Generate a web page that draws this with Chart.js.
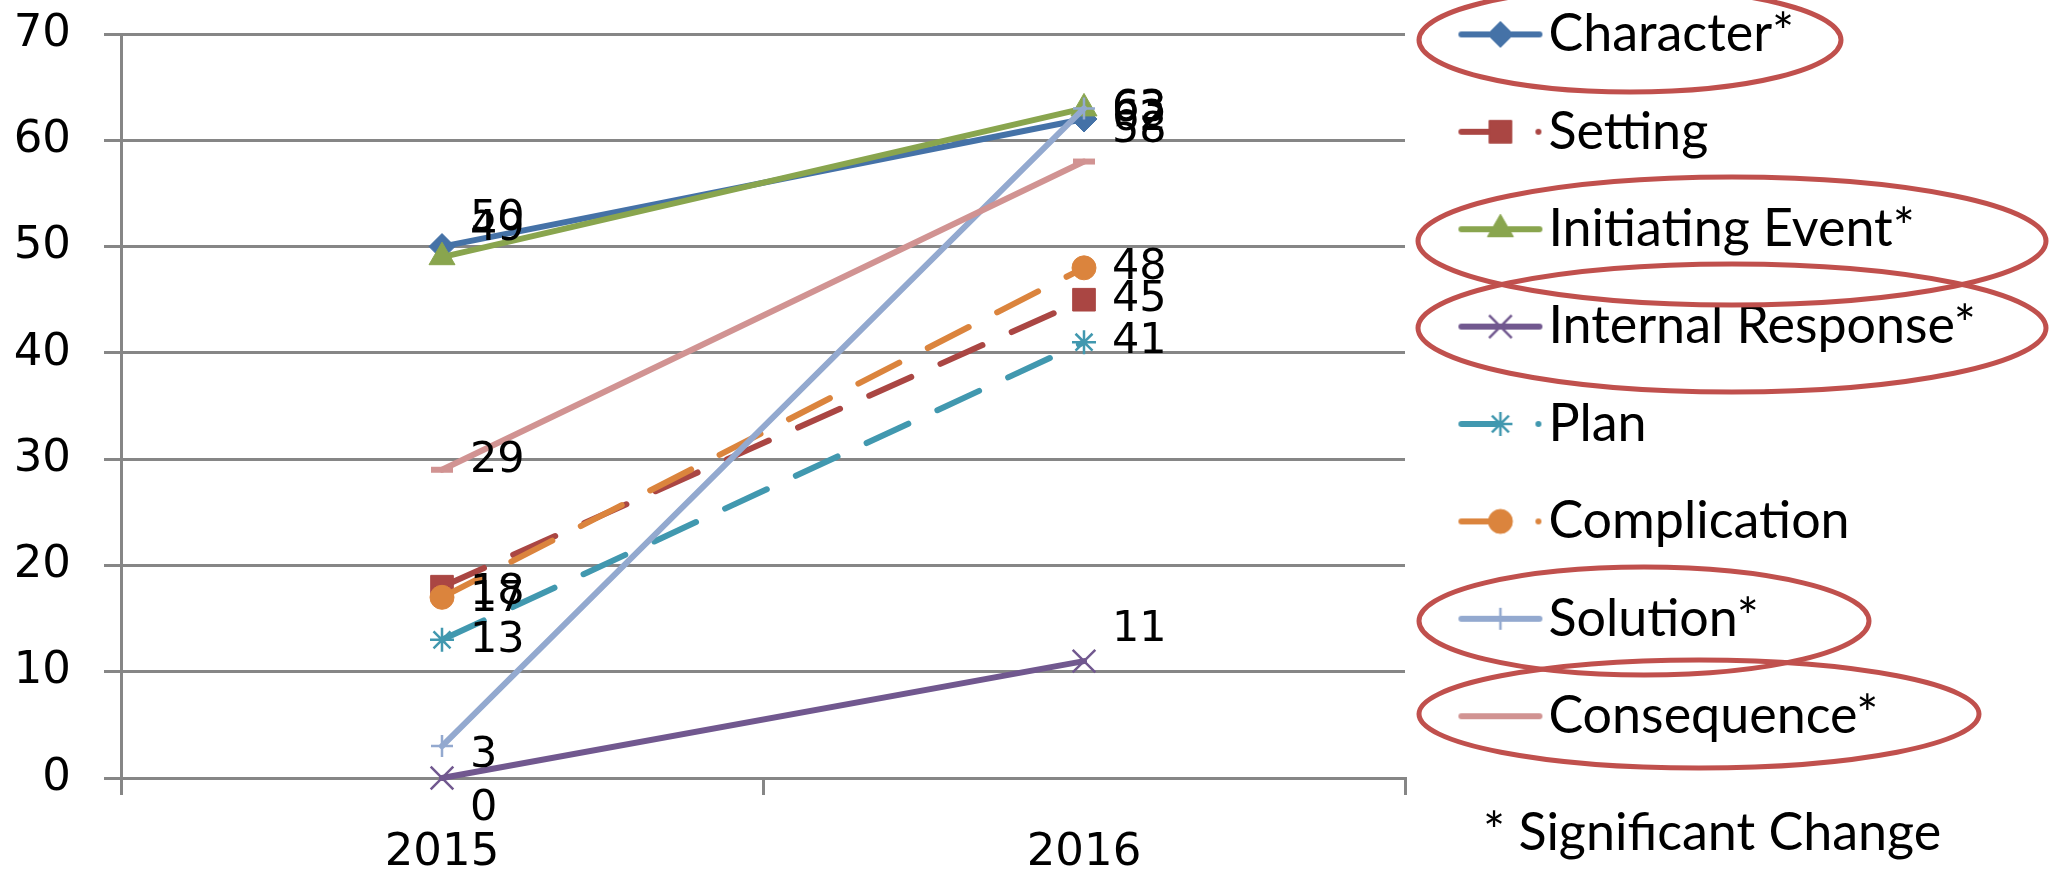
<!DOCTYPE html>
<html>
<head>
<meta charset="utf-8">
<script src="https://cdn.jsdelivr.net/npm/chart.js@4.4.1/dist/chart.umd.min.js"></script>
<style>
  html, body { margin: 0; padding: 0; background: #fff; }
  #wrap { width: 2055px; height: 870px; }
</style>
</head>
<body>
<div id="wrap"><canvas id="chart" width="2055" height="870"></canvas></div>
<script>
// data
const years = ["2015", "2016"];
const seriesNames = ["Character*", "Setting", "Initiating Event*", "Internal Response*",
                     "Plan", "Complication", "Solution*", "Consequence*"];
const character = [50, 62];
const setting = [18, 45];
const initiatingEvent = [49, 63];
const internalResponse = [0, 11];
const plan = [13, 41];
const complication = [17, 48];
const solution = [3, 63];
const consequence = [29, 58];
const yTicks = [0, 10, 20, 30, 40, 50, 60, 70];
const footnote = "* Significant Change";

const seriesValues = [character, setting, initiatingEvent, internalResponse,
                      plan, complication, solution, consequence];

// looks
const LINE_W = 6;
const styles = [
  { color: "#4572A7", marker: "rectRot",  r: 13, bw: 1,   dash: false },
  { color: "#AA4643", marker: "rect",     r: 16, bw: 1,   dash: true },
  { color: "#89A54E", marker: "triangle", r: 15, bw: 1,   dash: false },
  { color: "#71588F", marker: "crossRot", r: 16, bw: 2.5, dash: false },
  { color: "#4198AF", marker: "star",     r: 12, bw: 2.5, dash: true },
  { color: "#DB843D", marker: "circle",   r: 12, bw: 1,   dash: true },
  { color: "#93A9CF", marker: "cross",    r: 11, bw: 2.5, dash: false },
  { color: "#D19392", marker: "line",     r: 11, bw: LINE_W, dash: false }
];
// vertical nudges of the value labels (Excel moved some of them)
const labelNudge = [[-28, 0], [6, 0], [-28, 1], [31, -31], [1, 0], [3, 0], [10, 0], [-9, -31]];

const axisFont = { family: "'DejaVu Sans', Verdana, sans-serif", size: 45 };
const legendFont = { family: "Lato, 'Open Sans', sans-serif", size: 52 };
const gridGrey = "#868686";

const CANVAS_W = 2055;
const PLOT_LEFT = 121;
const PLOT_TOP = 34;
const PLOT_RIGHT = 1405;
const X_AXIS_H = 92;
const LEGEND_BOX = 400;   // width the layout reserves for the legend
const LEGEND_PAD = 45.4;
const SYMBOL_W = 72;
const LEGEND_TOP = -37;

// red rings drawn around the significant series in the legend
const rings = [
  { cx: 1630, cy: 40, rx: 211, ry: 52 },
  { cx: 1732, cy: 241, rx: 314, ry: 64 },
  { cx: 1732, cy: 328, rx: 314, ry: 64 },
  { cx: 1644, cy: 621, rx: 225, ry: 54 },
  { cx: 1699, cy: 714, rx: 280, ry: 54 }
];

// legend symbol: short line with the marker, like Excel
function legendSymbol(st) {
  const c = document.createElement("canvas");
  c.width = 120;
  c.height = 36;
  const g = c.getContext("2d");
  const mid = 18;
  g.strokeStyle = st.color;
  g.fillStyle = st.color;
  g.lineWidth = LINE_W;
  g.lineCap = "round";
  g.beginPath();
  g.moveTo(35, mid);
  g.lineTo(st.dash ? 74 : 113, mid);
  g.stroke();
  if (st.dash) {
    g.beginPath();
    g.arc(112, mid, 3, 0, Math.PI * 2);
    g.fill();
  }
  g.lineWidth = st.bw;
  g.lineCap = "butt";
  Chart.helpers.drawPoint(g, { pointStyle: st.marker, radius: st.r, borderWidth: st.bw, rotation: 0 }, 74, mid);
  return c;
}
const symbols = styles.map(legendSymbol);

const pointLabels = {
  id: "pointLabels",
  afterDatasetsDraw(chart) {
    const ctx = chart.ctx;
    ctx.save();
    ctx.font = "43px 'DejaVu Sans', Verdana, sans-serif";
    ctx.fillStyle = "#000";
    ctx.textAlign = "left";
    ctx.textBaseline = "middle";
    chart.data.datasets.forEach((ds, i) => {
      chart.getDatasetMeta(i).data.forEach((pt, j) => {
        ctx.fillText(String(ds.data[j]), pt.x + 28, pt.y + labelNudge[i][j]);
      });
    });
    ctx.restore();
  }
};

// let the legend use the whole strip right of the plot (it clips to its box)
const legendPlace = {
  id: "legendPlace",
  afterLayout(chart) {
    const lg = chart.legend;
    lg.top = LEGEND_TOP;
    lg.right = chart.width;
    lg.width = lg.right - lg.left;
  }
};

const notes = {
  id: "notes",
  afterDraw(chart) {
    const ctx = chart.ctx;
    ctx.save();
    ctx.fillStyle = "#000";
    ctx.font = legendFont.size + "px " + legendFont.family;
    ctx.textAlign = "left";
    ctx.textBaseline = "alphabetic";
    ctx.fillText(footnote, 1483, 850);
    ctx.strokeStyle = "#C0504D";
    ctx.lineWidth = 5;
    rings.forEach(e => {
      ctx.beginPath();
      ctx.ellipse(e.cx, e.cy, e.rx, e.ry, 0, 0, Math.PI * 2);
      ctx.stroke();
    });
    ctx.restore();
  }
};

const datasets = seriesNames.map((name, i) => ({
  label: name,
  data: seriesValues[i],
  borderColor: styles[i].color,
  backgroundColor: styles[i].color,
  borderWidth: LINE_W,
  borderDash: styles[i].dash ? [46, 32] : [],
  borderCapStyle: "round",
  pointStyle: styles[i].marker,
  pointRadius: styles[i].r,
  pointBorderWidth: styles[i].bw,
  pointBackgroundColor: styles[i].color,
  pointBorderColor: styles[i].color,
  tension: 0,
  fill: false,
  clip: false,
  order: -i
}));

new Chart(document.getElementById("chart"), {
  type: "line",
  data: { labels: years, datasets },
  plugins: [pointLabels, legendPlace, notes],
  options: {
    responsive: false,
    animation: false,
    devicePixelRatio: 1,
    layout: { padding: { left: 0, top: PLOT_TOP, right: CANVAS_W - PLOT_RIGHT - LEGEND_BOX, bottom: 0 } },
    plugins: {
      tooltip: { enabled: false },
      legend: {
        position: "right",
        align: "start",
        maxWidth: LEGEND_BOX,
        labels: {
          usePointStyle: true,
          pointStyleWidth: SYMBOL_W,
          padding: LEGEND_PAD,
          color: "#000",
          font: legendFont,
          generateLabels: (chart) => chart.data.datasets.map((ds, i) => ({
            text: ds.label,
            datasetIndex: i,
            pointStyle: symbols[i],
            fillStyle: ds.borderColor,
            strokeStyle: ds.borderColor,
            lineWidth: 0,
            hidden: false,
            fontColor: "#000"
          }))
        }
      }
    },
    scales: {
      x: {
        offset: true,
        ticks: { padding: 31, color: "#000", font: axisFont, maxRotation: 0 },
        grid: { offset: true, drawOnChartArea: false, color: gridGrey, lineWidth: 3, tickLength: 17 },
        border: { color: gridGrey, width: 3 },
        afterFit(scale) {
          scale.height = X_AXIS_H;
          scale.paddingLeft = 0;
          scale.paddingRight = 0;
        }
      },
      y: {
        min: yTicks[0],
        max: yTicks[yTicks.length - 1],
        ticks: { stepSize: yTicks[1] - yTicks[0], padding: 33, color: "#000", font: axisFont },
        grid: { color: gridGrey, lineWidth: 3, tickLength: 17 },
        border: { color: gridGrey, width: 3 },
        afterFit(scale) {
          scale.width = PLOT_LEFT;
          scale.paddingTop = 0;
          scale.paddingBottom = 0;
        }
      }
    }
  }
});
</script>
</body>
</html>
